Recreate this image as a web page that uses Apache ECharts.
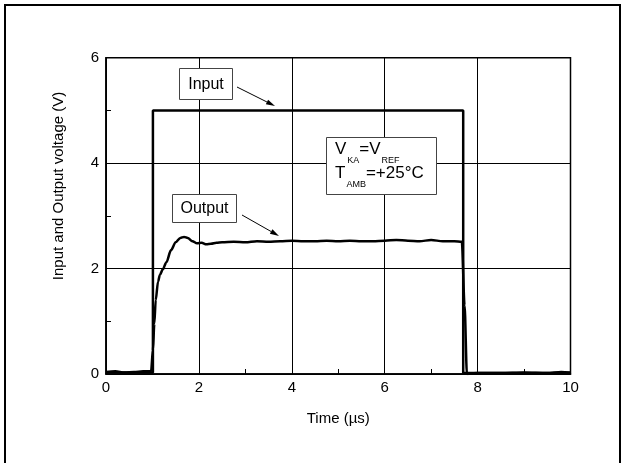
<!DOCTYPE html>
<html>
<head>
<meta charset="utf-8">
<script src="https://cdn.jsdelivr.net/npm/echarts@6/dist/echarts.min.js"></script>
<style>
html,body{margin:0;padding:0;background:#fff;}
#c{width:626px;height:463px;}
</style>
</head>
<body>
<div id="c"></div>
<script>
// ---- data ----
var xTicks = [0, 2, 4, 6, 8, 10];
var yTicks = [0, 2, 4, 6];
var inputT = [0, 1.01, 1.01, 7.69, 7.69, 10];
var inputV = [0.03, 0.03, 5, 5, 0.02, 0.02];
var outputT = [0, 0.2, 0.4, 0.6, 0.8, 0.97, 1.01, 1.04, 1.07, 1.12, 1.16, 1.22, 1.3, 1.4, 1.5, 1.6, 1.68, 1.76, 1.86, 1.96, 2.06, 2.16, 2.26, 2.38, 2.5, 2.75, 3.0, 3.25, 3.5, 3.75, 4.0, 4.25, 4.5, 4.75, 5.0, 5.25, 5.5, 5.75, 6.0, 6.25, 6.5, 6.75, 7.0, 7.25, 7.5, 7.66, 7.72, 7.77, 7.85, 8.0, 8.5, 9.0, 9.5, 9.8, 10];
var outputV = [0.04, 0.05, 0.03, 0.04, 0.05, 0.05, 0.45, 0.95, 1.4, 1.75, 1.88, 1.98, 2.12, 2.35, 2.5, 2.58, 2.6, 2.58, 2.52, 2.48, 2.49, 2.46, 2.47, 2.49, 2.5, 2.51, 2.5, 2.52, 2.51, 2.52, 2.53, 2.52, 2.52, 2.53, 2.52, 2.53, 2.52, 2.52, 2.53, 2.54, 2.53, 2.52, 2.54, 2.52, 2.52, 2.51, 1.3, 0.0, 0.01, 0.02, 0.02, 0.03, 0.02, 0.04, 0.03];
var xName = 'Time (\u00b5s)';
var yName = 'Input and Output voltage (V)';

function pairs(a, b) { return a.map(function (v, i) { return [v, b[i]]; }); }

var FONT = '"Liberation Sans", Arial, Helvetica, sans-serif';
var chart = echarts.init(document.getElementById('c'));

function arrow(x1, y1, x2, y2) {
  var ang = Math.atan2(y2 - y1, x2 - x1), L = 9, W = 2.6;
  var bx = x2 - L * Math.cos(ang), by = y2 - L * Math.sin(ang);
  var px = -Math.sin(ang) * W, py = Math.cos(ang) * W;
  return [
    { type: 'line', shape: { x1: x1, y1: y1, x2: bx, y2: by }, style: { stroke: '#000', lineWidth: 1 }, z: 20 },
    { type: 'polygon', shape: { points: [[x2, y2], [bx + px, by + py], [bx - px, by - py]] }, style: { fill: '#000' }, z: 20 }
  ];
}

var axisCommon = {
  type: 'value',
  axisLine: { show: true, lineStyle: { color: '#000', width: 1.5 } },
  axisTick: { show: true, inside: true, length: 5, lineStyle: { color: '#000' } },
  minorTick: { show: true, splitNumber: 2, length: 5, lineStyle: { color: '#000', width: 1 } },
  splitLine: { show: true, lineStyle: { color: '#000', width: 1 } },
  axisLabel: { color: '#000', fontSize: 15, fontFamily: FONT }
};

var graphics = [
  { type: 'rect', shape: { x: 5, y: 5, width: 615, height: 470 }, style: { fill: null, stroke: '#000', lineWidth: 2 }, z: 30, silent: true },
  { type: 'text', x: 59, y: 186, rotation: Math.PI / 2, style: { text: yName, font: '15px ' + FONT, fill: '#000', align: 'center', verticalAlign: 'middle' }, z: 20 },
  // Input label
  { type: 'rect', shape: { x: 179.5, y: 68.5, width: 53, height: 31 }, style: { fill: '#fff', stroke: '#444', lineWidth: 1 }, z: 15 },
  { type: 'text', x: 206, y: 84.5, style: { text: 'Input', font: '16px ' + FONT, fill: '#000', align: 'center', verticalAlign: 'middle' }, z: 16 },
  // Output label
  { type: 'rect', shape: { x: 172.5, y: 194.5, width: 64, height: 28 }, style: { fill: '#fff', stroke: '#444', lineWidth: 1 }, z: 15 },
  { type: 'text', x: 204.5, y: 209, style: { text: 'Output', font: '16px ' + FONT, fill: '#000', align: 'center', verticalAlign: 'middle' }, z: 16 },
  // Conditions box
  { type: 'rect', shape: { x: 326.5, y: 137.5, width: 110, height: 57 }, style: { fill: '#fff', stroke: '#444', lineWidth: 1 }, z: 15 },
  { type: 'text', x: 335, y: 141, style: {
      text: '{m|V}{s|KA}{m|=V}{s|REF}\n{m|T}{s|AMB}{m|=+25\u00b0C}',
      fill: '#000', align: 'left', verticalAlign: 'top',
      rich: {
        m: { fontSize: 17, fontFamily: FONT, lineHeight: 24, verticalAlign: 'top', fill: '#000' },
        s: { fontSize: 9, fontFamily: FONT, lineHeight: 9, padding: [15, 0, 0, 1], verticalAlign: 'top', fill: '#000' }
      } }, z: 16 }
].concat(arrow(237, 87, 275, 106)).concat(arrow(242, 215, 279, 236));

chart.setOption({
  animation: false,
  backgroundColor: '#fff',
  grid: { left: 106, right: 55.5, top: 57.7, bottom: 89, show: true, borderColor: '#000', borderWidth: 1.5, backgroundColor: 'transparent' },
  xAxis: Object.assign({}, axisCommon, {
    min: xTicks[0], max: xTicks[xTicks.length - 1], interval: xTicks[1] - xTicks[0],
    name: xName, nameLocation: 'middle', nameGap: 37,
    nameTextStyle: { color: '#000', fontSize: 15, fontFamily: FONT },
    axisLabel: Object.assign({}, axisCommon.axisLabel, { margin: 6 })
  }),
  yAxis: Object.assign({}, axisCommon, {
    min: yTicks[0], max: yTicks[yTicks.length - 1], interval: yTicks[1] - yTicks[0],
    axisLabel: Object.assign({}, axisCommon.axisLabel, { margin: 7 })
  }),
  series: [
    { name: 'Input', type: 'line', data: pairs(inputT, inputV), showSymbol: false, lineStyle: { color: '#000', width: 2.5 }, z: 5 },
    { name: 'Output', type: 'line', data: pairs(outputT, outputV), showSymbol: false, smooth: 0.3, smoothMonotone: 'x', lineStyle: { color: '#000', width: 2.5 }, z: 6 }
  ],
  graphic: graphics
});
</script>
</body>
</html>
